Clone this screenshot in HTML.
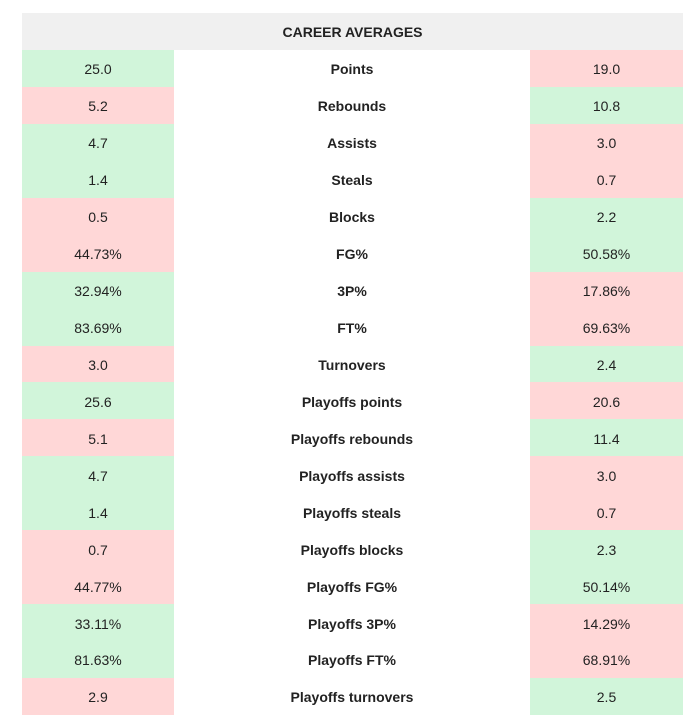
<!DOCTYPE html>
<html><head><style>
body{margin:0;background:#fff;font-family:"Liberation Sans",Arial,sans-serif;font-size:14px;color:#222}
.w{position:absolute;left:22px;top:13px;width:661px}
.h{height:37px;line-height:38px;background:#f0f0f0;font-weight:bold;text-align:center}
.row{display:flex;height:36.95px}
.row div{display:flex;align-items:center;justify-content:center;padding-top:2px;box-sizing:border-box}
.a{width:152px}.m{width:356px;font-weight:bold}.b{width:153px}
.g{background:#d1f5da}.r{background:#ffd7d7}
</style></head><body>
<div class="w">
<div class="h">CAREER AVERAGES</div>
<div class="row"><div class="a g">25.0</div><div class="m">Points</div><div class="b r">19.0</div></div>
<div class="row"><div class="a r">5.2</div><div class="m">Rebounds</div><div class="b g">10.8</div></div>
<div class="row"><div class="a g">4.7</div><div class="m">Assists</div><div class="b r">3.0</div></div>
<div class="row"><div class="a g">1.4</div><div class="m">Steals</div><div class="b r">0.7</div></div>
<div class="row"><div class="a r">0.5</div><div class="m">Blocks</div><div class="b g">2.2</div></div>
<div class="row"><div class="a r">44.73%</div><div class="m">FG%</div><div class="b g">50.58%</div></div>
<div class="row"><div class="a g">32.94%</div><div class="m">3P%</div><div class="b r">17.86%</div></div>
<div class="row"><div class="a g">83.69%</div><div class="m">FT%</div><div class="b r">69.63%</div></div>
<div class="row"><div class="a r">3.0</div><div class="m">Turnovers</div><div class="b g">2.4</div></div>
<div class="row"><div class="a g">25.6</div><div class="m">Playoffs points</div><div class="b r">20.6</div></div>
<div class="row"><div class="a r">5.1</div><div class="m">Playoffs rebounds</div><div class="b g">11.4</div></div>
<div class="row"><div class="a g">4.7</div><div class="m">Playoffs assists</div><div class="b r">3.0</div></div>
<div class="row"><div class="a g">1.4</div><div class="m">Playoffs steals</div><div class="b r">0.7</div></div>
<div class="row"><div class="a r">0.7</div><div class="m">Playoffs blocks</div><div class="b g">2.3</div></div>
<div class="row"><div class="a r">44.77%</div><div class="m">Playoffs FG%</div><div class="b g">50.14%</div></div>
<div class="row"><div class="a g">33.11%</div><div class="m">Playoffs 3P%</div><div class="b r">14.29%</div></div>
<div class="row"><div class="a g">81.63%</div><div class="m">Playoffs FT%</div><div class="b r">68.91%</div></div>
<div class="row"><div class="a r">2.9</div><div class="m">Playoffs turnovers</div><div class="b g">2.5</div></div>
</div>
</body></html>
